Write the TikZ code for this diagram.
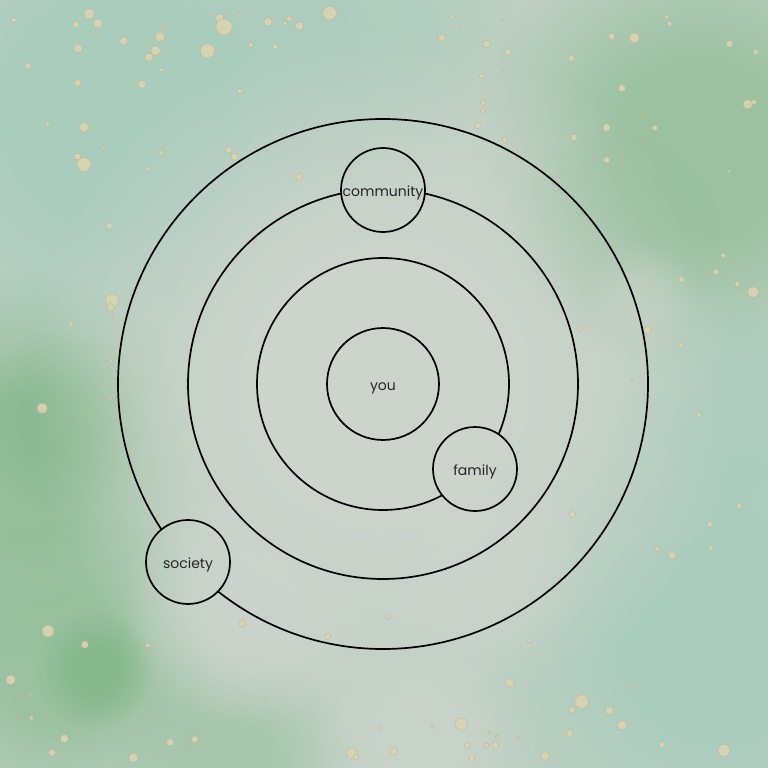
\documentclass[tikz,border=0pt]{standalone}
\usepackage{fontspec}
\setmainfont{Poppins}
\usetikzlibrary{fadings,positioning}
\definecolor{wash}{RGB}{192,208,196}
\definecolor{pale}{RGB}{204,212,204}
\definecolor{teal}{RGB}{168,204,188}
\definecolor{leaf}{RGB}{146,190,152}
\definecolor{moss}{RGB}{120,178,128}
\definecolor{gold}{RGB}{218,212,178}
\definecolor{ink}{RGB}{38,38,38}
\pgfdeclareradialshading{blobshade}{\pgfpointorigin}{color(0pt)=(pgftransparent!0); color(9pt)=(pgftransparent!0); color(25pt)=(pgftransparent!100); color(50pt)=(pgftransparent!100)}
\pgfdeclarefading{blob}{\pgfuseshading{blobshade}}
\tikzset{main node/.style={circle,draw=black,line width=1.7pt,minimum size=84pt,inner sep=0pt,text=ink,
                           font=\fontsize{14}{16}\selectfont,text height=14pt,text depth=1pt},
         ring/.style={draw=black,line width=1.7pt},
         wet/.style={path fading=blob},
         speck/.style={fill=gold,draw=gold!85!black,line width=0.4pt,opacity=0.9}
}

\begin{document}
\begin{tikzpicture}[x=1pt,y=-1pt]
\useasboundingbox (0,0) rectangle (768,768);
% background wash
\fill[wash] (0,0) rectangle (768,768);
\foreach \x/\y/\r/\c/\o in {120/110/300/teal/0.9, 360/30/170/teal/0.6,
    700/150/230/leaf/0.8, 610/240/110/leaf/0.7, 720/640/260/teal/0.9,
    740/420/150/teal/0.7, 20/470/200/leaf/0.9, 60/660/170/leaf/0.8,
    95/670/60/moss/0.6, 60/420/90/moss/0.4, 230/760/120/leaf/0.5,
    383/384/360/pale/1, 250/600/130/pale/0.8, 480/560/120/pale/0.7,
    420/740/120/pale/0.6, 640/300/60/pale/0.5}
    \fill[\c,wet,opacity=\o] (\x,\y) circle (\r);
% gold specks
\pgfmathsetseed{5}
\foreach \i in {1,...,45}{
    \pgfmathsetmacro{\sx}{10+rnd*320}
    \pgfmathsetmacro{\sy}{10+rnd*rnd*320}
    \pgfmathsetmacro{\sr}{1.5+7*rnd*rnd}
    \fill[speck] (\sx,\sy) circle (\sr);
}
\foreach \i in {1,...,28}{
    \pgfmathsetmacro{\sx}{440+rnd*320}
    \pgfmathsetmacro{\sy}{15+rnd*rnd*230}
    \pgfmathsetmacro{\sr}{1.5+6*rnd*rnd}
    \fill[speck] (\sx,\sy) circle (\sr);
}
\foreach \i in {1,...,42}{
    \pgfmathsetmacro{\sx}{10+rnd*750}
    \pgfmathsetmacro{\sy}{760-rnd*rnd*170}
    \pgfmathsetmacro{\sr}{1.5+7.5*rnd*rnd}
    \fill[speck] (\sx,\sy) circle (\sr);
}
\foreach \i in {1,...,18}{
    \pgfmathsetmacro{\sx}{570+rnd*190}
    \pgfmathsetmacro{\sy}{250+rnd*340}
    \pgfmathsetmacro{\sr}{1.5+5*rnd*rnd}
    \fill[speck] (\sx,\sy) circle (\sr);
}
\foreach \i in {1,...,7}{
    \pgfmathsetmacro{\sx}{5+rnd*150}
    \pgfmathsetmacro{\sy}{250+rnd*200}
    \pgfmathsetmacro{\sr}{1.5+5*rnd*rnd}
    \fill[speck] (\sx,\sy) circle (\sr);
}

% nodes
\node [main node, minimum size=112pt] (you) at (383,384) {you};
\coordinate (centre) at (you.center);
\node [main node] (community) at (383,190) {community};
\node [main node] (family) at (475,469) {family};
\node [main node] (society) at (188,562) {society};

% rings, cut out where the small circles sit
\begin{scope}[even odd rule]
\clip (0,0) rectangle (768,768)
    (community) circle (42) (family) circle (42) (society) circle (42);
\foreach \r in {126,195,265}
    \draw[ring] (centre) circle (\r);
\end{scope}
\end{tikzpicture}
\end{document}
